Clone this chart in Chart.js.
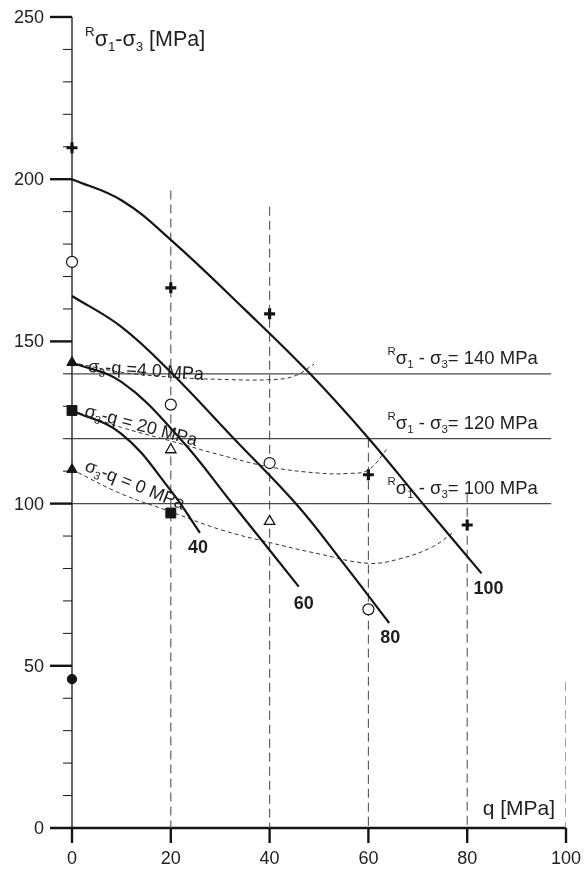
<!DOCTYPE html>
<html>
<head>
<meta charset="utf-8">
<script src="https://cdn.jsdelivr.net/npm/chart.js@4.4.1/dist/chart.umd.min.js"></script>
<style>
  html, body { margin: 0; padding: 0; background: #fff; }
  canvas { display: block; }
</style>
</head>
<body>
<canvas id="chart" width="585" height="870"></canvas>
<script>
// ---- axis ticks ----
const qTicks = [0, 20, 40, 60, 80, 100];
const sTicks = [0, 50, 100, 150, 200, 250];
const sMinorStep = 10;

// ---- strength curves (q, Rs1-s3), labelled at their lower end ----
const curveNames = ['40', '60', '80', '100'];
const curve40 = [[0, 128.7], [10, 121.5], [20, 104], [25.9, 91]];
const curve60 = [[0, 143.5], [10, 137.5], [21.9, 120], [32.2, 100.5], [45.9, 74.4]];
const curve80 = [[0, 164], [10, 154.5], [20, 140.5], [32.8, 120], [45.3, 100], [55, 81.5], [64.2, 63.2]];
const curve100 = [[0, 200], [10, 193.5], [20, 181.3], [35, 159.8], [48.2, 140], [60.1, 120], [71, 100], [82.9, 78.5]];

// ---- sigma3 - q = const lines ----
const sq0 = [[0, 110.5], [10, 103], [20, 97.5], [30, 92], [40, 88], [50, 84.5], [60, 81.6], [66.4, 83], [73, 86.7], [77.5, 91.5]];
const sq20 = [[0, 128.7], [10, 123.5], [20, 119.3], [30, 115], [40, 111.3], [50, 109.4], [56, 109.3], [60, 110.4], [64, 117.3]];
const sq40 = [[0, 143.5], [10, 140.5], [20, 139], [30, 138.3], [40, 138.2], [45, 139.3], [49, 143]];
const sqNames = ['0', '20', '40'];

// ---- test results ----
const plusPts = [[0, 209.7], [20, 166.5], [40, 158.5], [60, 108.9], [80, 93.4]];
const ringPts = [[0, 174.5], [20, 130.5], [40, 112.5], [60, 67.4]];
const triFilledPts = [[0, 143.5], [0, 110.5]];
const triOpenPts = [[20, 116.6], [40, 94.5]];
const squarePts = [[0, 128.7], [20, 97.1]];
const dotPts = [[0, 45.9]];

// ---- reference strength levels ----
const levels = [140, 120, 100];
const levelEndQ = 97;

// ---- dashed guides at the q grid (q, top value) ----
const guideQ = [20, 40, 60, 80, 100];
const guideTop = [196.5, 191.5, 120, 103, 45];

const xy = arr => arr.map(([x, y]) => ({ x, y }));

const INK = '#141414';
const FONT = '"Liberation Sans", Arial, Helvetica, sans-serif';

const datasets = [];

// markers first so they sit on top of the lines
function markers(pts, style, r, fill, bw) {
  datasets.push({
    data: xy(pts), showLine: false, clip: false,
    pointStyle: style, pointRadius: r, pointHoverRadius: r,
    pointBackgroundColor: fill, pointBorderColor: INK, pointBorderWidth: bw
  });
}
markers(plusPts, 'cross', 5.5, INK, 3.2);
markers(ringPts, 'circle', 5.5, '#fff', 1.2);
markers(triOpenPts, 'triangle', 6, '#fff', 1.3);
markers(triFilledPts, 'triangle', 6, INK, 1);
markers(squarePts, 'rect', 7, INK, 1);
markers(dotPts, 'circle', 4.7, INK, 1);

[curve40, curve60, curve80, curve100].forEach(c => datasets.push({
  data: xy(c), showLine: true, pointRadius: 0, borderColor: INK, borderWidth: 2.2,
  tension: 0.4, clip: false
}));

[sq0, sq20, sq40].forEach(c => datasets.push({
  data: xy(c), showLine: true, pointRadius: 0, borderColor: '#333', borderWidth: 1,
  borderDash: [4, 3], tension: 0.4, clip: false
}));

levels.forEach(v => datasets.push({
  data: xy([[0, v], [levelEndQ, v]]), showLine: true, pointRadius: 0,
  borderColor: '#4a4a4a', borderWidth: 1.2
}));

guideQ.forEach((q, i) => datasets.push({
  data: xy([[q, guideTop[i]], [q, 0]]), showLine: true, pointRadius: 0,
  borderColor: '#555', borderWidth: 1.1, borderDash: [9, 5]
}));

// text with sub/superscript runs
function richWidth(ctx, parts, size) {
  let w = 0;
  parts.forEach(p => {
    const s = p.s ? size * 0.62 : size;
    ctx.font = `${s}px ${FONT}`;
    w += ctx.measureText(p.t).width;
  });
  return w;
}
function drawRich(ctx, parts, x, y, size, align) {
  let cx = x;
  if (align === 'right') cx = x - richWidth(ctx, parts, size);
  ctx.textAlign = 'left';
  ctx.textBaseline = 'alphabetic';
  parts.forEach(p => {
    const s = p.s ? size * 0.62 : size;
    ctx.font = `${s}px ${FONT}`;
    let dy = 0;
    if (p.s === 'sup') dy = -size * 0.48;
    if (p.s === 'sub') dy = size * 0.22;
    ctx.fillText(p.t, cx, y + dy);
    cx += ctx.measureText(p.t).width;
  });
}

const frame = {
  id: 'frame',
  beforeDatasetsDraw(chart) {
    const ctx = chart.ctx;
    const xs = chart.scales.x, ys = chart.scales.y;
    const x0 = xs.getPixelForValue(0), y0 = ys.getPixelForValue(0);
    const xEnd = xs.getPixelForValue(100), yTop = ys.getPixelForValue(250);
    ctx.save();
    ctx.strokeStyle = INK;
    ctx.fillStyle = '#222';
    // vertical axis
    ctx.lineWidth = 1.3;
    ctx.beginPath(); ctx.moveTo(x0, yTop); ctx.lineTo(x0, y0); ctx.stroke();
    // minor ticks
    ctx.lineWidth = 1;
    for (let v = 0; v <= 250; v += sMinorStep) {
      if (v % 50 === 0) continue;
      const y = ys.getPixelForValue(v);
      ctx.beginPath(); ctx.moveTo(x0 - 9, y); ctx.lineTo(x0, y); ctx.stroke();
    }
    // major ticks and labels
    ctx.font = `18px ${FONT}`;
    ctx.textAlign = 'right'; ctx.textBaseline = 'middle';
    sTicks.forEach(v => {
      const y = ys.getPixelForValue(v);
      ctx.lineWidth = 2.4;
      if (v !== 0) { ctx.beginPath(); ctx.moveTo(x0 - 22, y); ctx.lineTo(x0, y); ctx.stroke(); }
      ctx.fillText(String(v), x0 - 28, y + 1);
    });
    // horizontal axis
    ctx.lineWidth = 2.6;
    ctx.beginPath(); ctx.moveTo(x0 - 22, y0); ctx.lineTo(xEnd, y0); ctx.stroke();
    ctx.textAlign = 'center'; ctx.textBaseline = 'middle';
    qTicks.forEach(q => {
      const x = xs.getPixelForValue(q);
      ctx.lineWidth = 2.4;
      ctx.beginPath(); ctx.moveTo(x, y0); ctx.lineTo(x, y0 + 15); ctx.stroke();
      ctx.fillText(String(q), x, y0 + 31);
    });
    ctx.restore();
  },
  afterDatasetsDraw(chart) {
    const ctx = chart.ctx;
    const xs = chart.scales.x, ys = chart.scales.y;
    const px = q => xs.getPixelForValue(q), py = v => ys.getPixelForValue(v);
    ctx.save();
    ctx.fillStyle = '#1e1e1e';

    // axis titles
    drawRich(ctx, [{ t: 'R', s: 'sup' }, { t: 'σ' }, { t: '1', s: 'sub' }, { t: '-' }, { t: 'σ' }, { t: '3', s: 'sub' }, { t: ' [MPa]' }],
      px(0) + 13, py(250) + 29, 21.5, 'left');
    drawRich(ctx, [{ t: 'q [MPa]' }], px(100) - 11, py(0) - 13, 21, 'right');

    // reference level labels
    levels.forEach(v => {
      drawRich(ctx, [{ t: 'R', s: 'sup' }, { t: 'σ' }, { t: '1', s: 'sub' }, { t: ' - ' }, { t: 'σ' }, { t: '3', s: 'sub' }, { t: '= ' + v + ' MPa' }],
        px(94.3), py(v) - 10, 18.5, 'right');
    });

    // sigma3 - q labels along the dashed lines
    const sqText = ['-q = 0 MPa', '-q = 20 MPa', '-q =4 0 MPa'];
    const sqAnchor = [[2.4, 110.3], [2.4, 127], [3.2, 140.6]];
    const sqAngle = [22, 15, 4];
    sqNames.forEach((n, i) => {
      ctx.save();
      ctx.translate(px(sqAnchor[i][0]), py(sqAnchor[i][1]));
      ctx.rotate(sqAngle[i] * Math.PI / 180);
      drawRich(ctx, [{ t: 'σ' }, { t: '3', s: 'sub' }, { t: sqText[i] }], 0, 0, 18, 'left');
      ctx.restore();
    });

    // curve names at the lower ends
    const ends = [curve40, curve60, curve80, curve100].map(c => c[c.length - 1]);
    const nameOffset = [[-2, 15], [5, 17], [1, 15], [7, 16]];
    ctx.font = `bold 18px ${FONT}`;
    ctx.textAlign = 'center'; ctx.textBaseline = 'middle';
    curveNames.forEach((n, i) => {
      ctx.fillText(n, px(ends[i][0]) + nameOffset[i][0], py(ends[i][1]) + nameOffset[i][1]);
    });
    ctx.restore();
  }
};

new Chart(document.getElementById('chart'), {
  type: 'scatter',
  data: { datasets },
  options: {
    responsive: false,
    animation: false,
    devicePixelRatio: 1,
    layout: { padding: { left: 72, right: 19, top: 17, bottom: 42 } },
    scales: {
      x: { type: 'linear', min: 0, max: 100, display: false },
      y: { type: 'linear', min: 0, max: 250, display: false }
    },
    plugins: { legend: { display: false }, tooltip: { enabled: false } },
    events: []
  },
  plugins: [frame]
});
</script>
</body>
</html>
